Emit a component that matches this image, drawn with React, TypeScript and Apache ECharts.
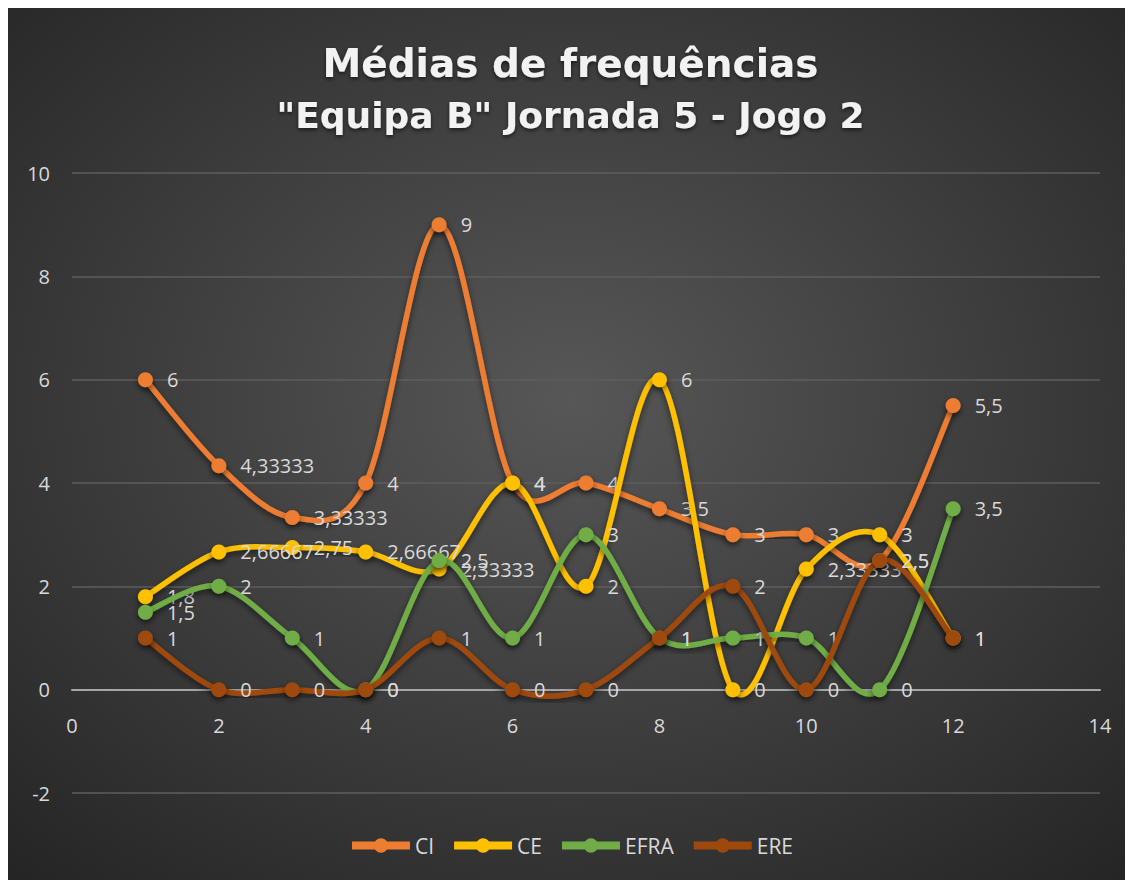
import React, { useEffect, useRef } from "react";
import * as echarts from "echarts";

const xs = [1, 2, 3, 4, 5, 6, 7, 8, 9, 10, 11, 12];
const ciValues = [6, 4.33333, 3.33333, 4, 9, 4, 4, 3.5, 3, 3, 2.5, 5.5];
const ceValues = [1.8, 2.66667, 2.75, 2.66667, 2.33333, 4, 2, 6, 0, 2.33333, 3, 1];
const efraValues = [1.5, 2, 1, 0, 2.5, 1, 3, 1, 1, 1, 0, 3.5];
const ereValues = [1, 0, 0, 0, 1, 0, 0, 1, 2, 0, 2.5, 1];
const seriesNames = ["CI", "CE", "EFRA", "ERE"];
const seriesColors = ["#ED7D31", "#FFC000", "#70AD47", "#9E480E"];
const titleLine1 = "Médias de frequências";
const titleLine2 = "\"Equipa B\" Jornada 5 - Jogo 2";

const fmt = (v: number) => String(v).replace(".", ",");

export default function App() {
  const ref = useRef<HTMLDivElement>(null);
  useEffect(() => {
    if (!ref.current) return;
    const chart = echarts.init(ref.current, null, { renderer: "svg" });
    const all = [ciValues, ceValues, efraValues, ereValues];
    const textColor = "#D9D9D9";
    const shadow = { shadowColor: "rgba(0,0,0,0.55)", shadowBlur: 6, shadowOffsetY: 3 };
    const series: any[] = [];
    all.forEach((vals, i) => {
      series.push({
        name: seriesNames[i],
        type: "line",
        data: xs.map((x, j) => [x, vals[j]]),
        symbol: "circle",
        symbolSize: 15,
        itemStyle: { color: seriesColors[i], ...shadow },
        lineStyle: { width: 5, color: seriesColors[i], opacity: 0 },
        label: {
          show: true,
          position: "right",
          distance: 14,
          color: textColor,
          fontFamily: "Open Sans",
          fontSize: 20,
          formatter: (p: any) => fmt(p.value[1]),
        },
        labelLayout: { hideOverlap: false },
        z: 3 + i * 2,
      });
    });
    all.forEach((vals, i) => {
      series.push({
        type: "custom",
        silent: true,
        data: xs.map((x, j) => [x, vals[j]]),
        encode: { x: 0, y: 1 },
        z: 2 + i * 2,
        renderItem: (params: any, api: any) => {
          const k = params.dataIndexInside;
          const n = params.dataInsideLength;
          if (k >= n - 1) return null;
          const P = (m: number) => {
            const mm = Math.max(0, Math.min(n - 1, m));
            return api.coord([api.value(0, mm), api.value(1, mm)]);
          };
          const p0 = P(k - 1), p1 = P(k), p2 = P(k + 1), p3 = P(k + 2);
          return {
            type: "bezierCurve",
            shape: {
              x1: p1[0], y1: p1[1], x2: p2[0], y2: p2[1],
              cpx1: p1[0] + (p2[0] - p0[0]) / 6,
              cpy1: p1[1] + (p2[1] - p0[1]) / 6,
              cpx2: p2[0] - (p3[0] - p1[0]) / 6,
              cpy2: p2[1] - (p3[1] - p1[1]) / 6,
            },
            style: {
              stroke: seriesColors[i],
              fill: null,
              lineWidth: 5.5,
              lineCap: "round",
              ...shadow,
            },
          };
        },
      });
    });
    const titleStyle = {
      color: "#F2F2F2",
      fontFamily: "DejaVu Sans",
      fontWeight: "bold",
      textShadowColor: "rgba(0,0,0,0.6)",
      textShadowBlur: 4,
      textShadowOffsetY: 2,
    };
    chart.setOption({
      animation: false,
      backgroundColor: {
        type: "radial",
        x: 0.5,
        y: 0.45,
        r: 0.75,
        colorStops: [
          { offset: 0, color: "#575757" },
          { offset: 1, color: "#242424" },
        ],
      },
      title: [
        { text: titleLine1, left: "center", top: 31, textStyle: { ...titleStyle, fontSize: 39 } },
        { text: titleLine2, left: "center", top: 84, textStyle: { ...titleStyle, fontSize: 36 } },
      ],
      legend: {
        bottom: 19,
        left: "center",
        itemWidth: 58,
        itemHeight: 18,
        itemGap: 16,
        lineStyle: { opacity: 1, width: 8 },
        textStyle: { color: textColor, fontFamily: "Open Sans", fontSize: 21 },
        data: seriesNames,
      },
      grid: { left: 64, right: 33, top: 165, bottom: 87 },
      xAxis: {
        type: "value",
        min: 0,
        max: 14,
        interval: 2,
        offset: -103,
        axisLine: { show: true, onZero: false, lineStyle: { color: "#A6A6A6", width: 2 } },
        axisTick: { show: false },
        splitLine: { show: false },
        axisLabel: { color: textColor, fontFamily: "Open Sans", fontSize: 20, margin: 25 },
      },
      yAxis: {
        type: "value",
        min: -2,
        max: 10,
        interval: 2,
        axisLine: { show: false },
        axisTick: { show: false },
        splitLine: { lineStyle: { color: "#5E5E5E", width: 1.5 } },
        axisLabel: { color: textColor, fontFamily: "Open Sans", fontSize: 20, margin: 22 },
      },
      series,
    });
    return () => chart.dispose();
  }, []);
  return <div ref={ref} style={{ width: 1125, height: 872 }} />;
}
